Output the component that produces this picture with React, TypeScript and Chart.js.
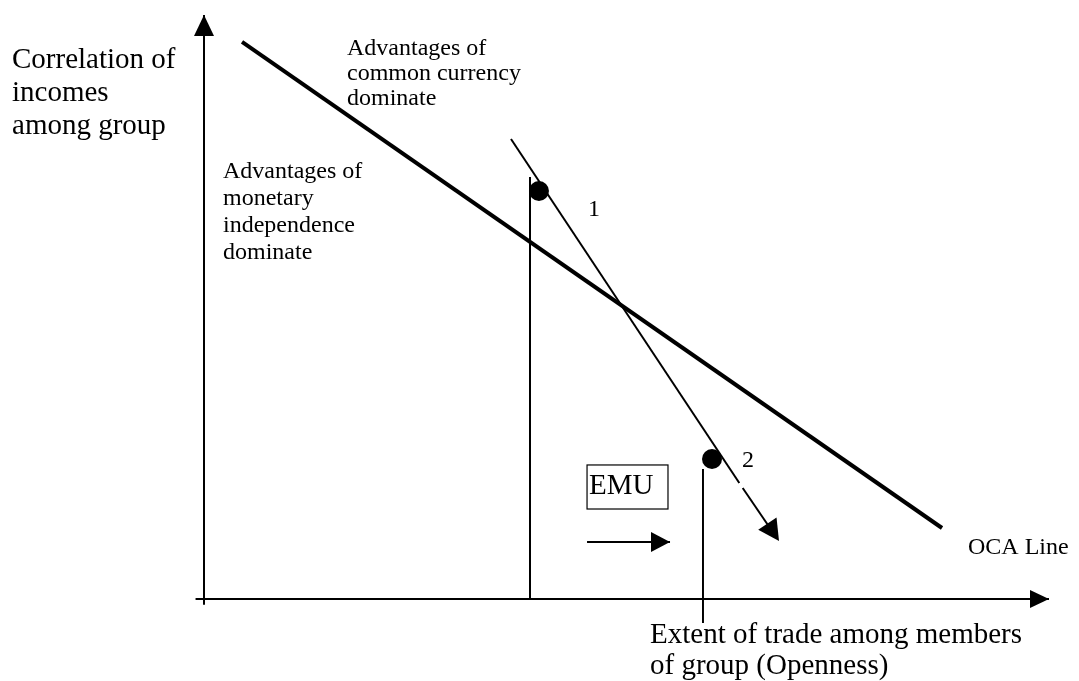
import React, { useEffect, useRef } from "react";
import { Chart, registerables } from "chart.js";

Chart.register(...registerables);

// Abstract diagram coordinates: x = openness (0..10), y = income correlation (0..10)
const xAxisLine = [{ x: -0.1, y: 0 }, { x: 10, y: 0 }];
const yAxisLine = [{ x: 0, y: -0.1 }, { x: 0, y: 10 }];
const ocaLine = [{ x: 0.45, y: 9.538 }, { x: 8.734, y: 1.216 }];
const shiftLineA = [{ x: 3.633, y: 7.877 }, { x: 6.335, y: 1.986 }];
const shiftLineB = [{ x: 6.375, y: 1.901 }, { x: 6.698, y: 1.216 }];
const shiftTip = { x: 6.805, y: 0.993 };
const countryPoints = [{ x: 3.964, y: 6.986 }, { x: 6.012, y: 2.397 }];
const dropLine1 = [{ x: 3.858, y: 0 }, { x: 3.858, y: 7.226 }];
const dropLine2 = [{ x: 5.905, y: -0.411 }, { x: 5.905, y: 2.226 }];
const emuArrow = [{ x: 4.533, y: 0.976 }, { x: 5.515, y: 0.976 }];
const emuBoxX = [4.533, 5.491];
const emuBoxY = [1.541, 2.295];

const labelYAxis = ["Correlation of", "incomes", "among group"];
const labelCommon = ["Advantages of", "common currency", "dominate"];
const labelMonetary = ["Advantages of", "monetary", "independence", "dominate"];
const labelXAxis = ["Extent of trade among members", "of group (Openness)"];
const labelPoints = ["1", "2"];
const labelEMU = "EMU";
const labelOCA = "OCA Line";

const FONT = '"Liberation Serif", "Times New Roman", serif';

export default function App() {
  const ref = useRef<HTMLCanvasElement | null>(null);

  useEffect(() => {
    const canvas = ref.current;
    if (!canvas) return;

    const lineDs = (data: any[], width: number) => ({
      type: "scatter" as const,
      data,
      showLine: true,
      borderColor: "#000",
      backgroundColor: "#000",
      borderWidth: width,
      pointRadius: 0,
      pointHoverRadius: 0,
      clip: false as any,
    });

    const overlay = {
      id: "overlay",
      afterDatasetsDraw(chart: any) {
        const ctx = chart.ctx as CanvasRenderingContext2D;
        const xs = chart.scales.x;
        const ys = chart.scales.y;
        const px = (v: number) => xs.getPixelForValue(v);
        const py = (v: number) => ys.getPixelForValue(v);

        const arrowHead = (from: { x: number; y: number }, tip: { x: number; y: number }, len: number, half: number) => {
          const fx = px(from.x), fy = py(from.y), tx = px(tip.x), ty = py(tip.y);
          const dx = tx - fx, dy = ty - fy;
          const d = Math.hypot(dx, dy);
          const ux = dx / d, uy = dy / d;
          const bx = tx - ux * len, by = ty - uy * len;
          ctx.beginPath();
          ctx.moveTo(tx, ty);
          ctx.lineTo(bx - uy * half, by + ux * half);
          ctx.lineTo(bx + uy * half, by - ux * half);
          ctx.closePath();
          ctx.fillStyle = "#000";
          ctx.fill();
        };

        ctx.save();
        arrowHead(yAxisLine[0], yAxisLine[1], 21, 10);
        arrowHead(xAxisLine[0], xAxisLine[1], 19, 9);
        arrowHead(emuArrow[0], emuArrow[1], 19, 10);
        arrowHead(shiftLineA[0], shiftTip, 21, 11);

        // EMU box
        ctx.strokeStyle = "#000";
        ctx.lineWidth = 1.2;
        const bx0 = px(emuBoxX[0]), bx1 = px(emuBoxX[1]);
        const by0 = py(emuBoxY[1]), by1 = py(emuBoxY[0]);
        ctx.strokeRect(bx0, by0, bx1 - bx0, by1 - by0);

        ctx.fillStyle = "#000";
        ctx.textBaseline = "alphabetic";
        ctx.textAlign = "left";
        const lines = (arr: string[], x: number, y: number, size: number, gap: number) => {
          ctx.font = `${size}px ${FONT}`;
          arr.forEach((t, i) => ctx.fillText(t, px(x), py(y) + i * gap));
        };
        lines(labelYAxis, -2.272, 9.092, 29, 33);
        lines(labelCommon, 1.692, 9.315, 24, 25);
        lines(labelMonetary, 0.225, 7.209, 24, 27);
        lines([labelPoints[0]], 4.544, 6.558, 24, 0);
        lines([labelPoints[1]], 6.367, 2.26, 24, 0);
        lines([labelEMU], 4.556, 1.798, 29, 0);
        lines([labelOCA], 9.041, 0.771, 24, 0);
        lines(labelXAxis, 5.278, -0.753, 29, 31);
        ctx.restore();
      },
    };

    const chart = new Chart(canvas, {
      type: "scatter",
      data: {
        datasets: [
          lineDs(xAxisLine, 2),
          lineDs(yAxisLine, 2),
          lineDs(ocaLine, 4),
          lineDs(shiftLineA, 2),
          lineDs(shiftLineB, 2),
          lineDs(dropLine1, 2),
          lineDs(dropLine2, 2),
          lineDs(emuArrow, 2),
          {
            type: "scatter" as const,
            data: countryPoints,
            pointRadius: 10,
            pointHoverRadius: 10,
            pointBackgroundColor: "#000",
            pointBorderColor: "#000",
            borderWidth: 0,
            showLine: false,
            clip: false as any,
          },
        ],
      },
      options: {
        animation: false,
        responsive: false,
        devicePixelRatio: 1,
        events: [],
        layout: { padding: { left: 204, right: 30, top: 15, bottom: 82 } },
        plugins: { legend: { display: false }, tooltip: { enabled: false } },
        scales: {
          x: { type: "linear", min: 0, max: 10, display: false },
          y: { type: "linear", min: 0, max: 10, display: false },
        },
      },
      plugins: [overlay],
    });

    return () => chart.destroy();
  }, []);

  return (
    <div style={{ position: "absolute", left: 0, top: 0, width: 1079, height: 681, background: "#fff" }}>
      <canvas ref={ref} width={1079} height={681} style={{ display: "block" }} />
    </div>
  );
}
